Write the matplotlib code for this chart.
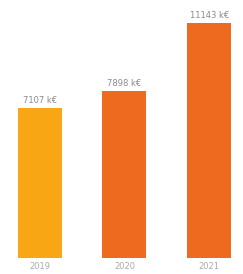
import matplotlib
matplotlib.use("Agg")
import matplotlib.pyplot as plt

years = ["2019", "2020", "2021"]
values = [7107, 7898, 11143]
labels = ["7107 k€", "7898 k€", "11143 k€"]
colors = ["#F9A614", "#EE6A1E", "#EE6A1E"]

fig = plt.figure(figsize=(2.43, 2.74), dpi=100)
ax = fig.add_axes([0, 16 / 274, 1, 258 / 274])

x = range(len(years))
bars = ax.bar(x, values, width=0.52, color=colors)
for b, lab in zip(bars, labels):
    ax.text(b.get_x() + b.get_width() / 2, b.get_height() + 150, lab,
            ha="center", va="bottom", fontsize=6, color="#8a8a8a")

ax.set_xlim(-0.47, 2.4)
ax.set_ylim(0, 12234)
ax.set_xticks(list(x))
ax.set_xticklabels(years, fontsize=6, color="#aaaaaa")
ax.tick_params(axis="x", length=0, pad=3)
ax.set_yticks([])
for s in ax.spines.values():
    s.set_visible(False)

fig.savefig("out.png", dpi=100)
